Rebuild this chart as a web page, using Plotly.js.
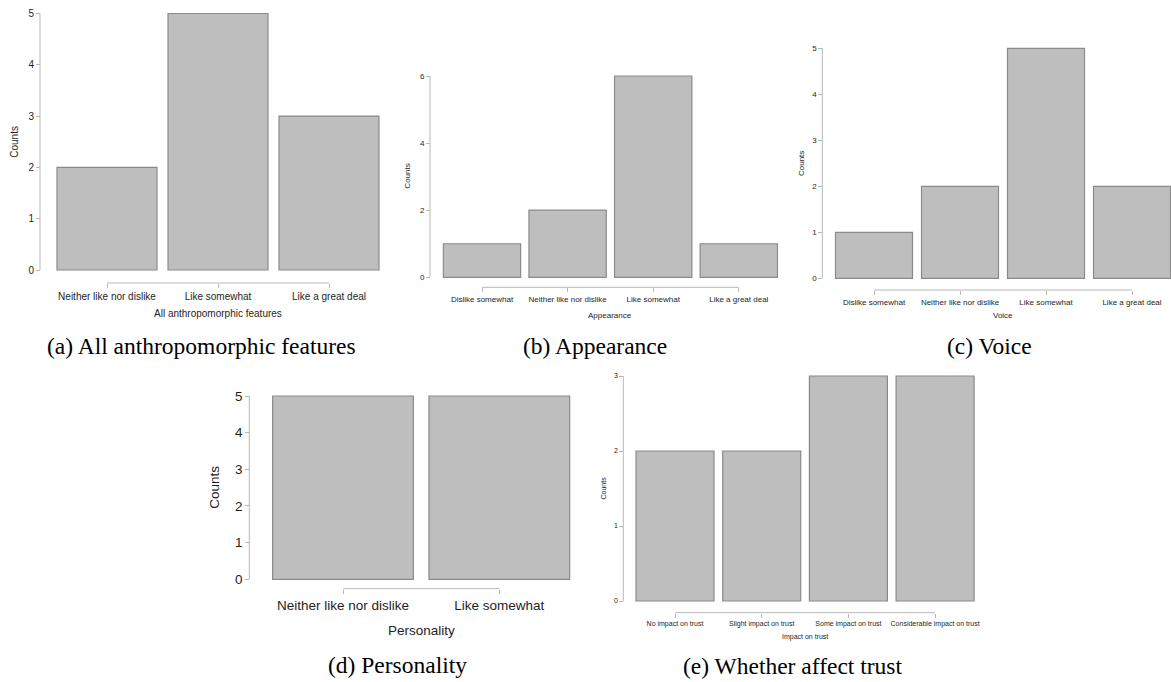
<!DOCTYPE html>
<html>
<head>
<meta charset="utf-8">
<script src="https://cdn.plot.ly/plotly-3.0.1.min.js"></script>
<style>
  html, body { margin: 0; padding: 0; background: #fff; }
  #fig { width: 1171px; height: 682px; }
</style>
</head>
<body>
<div id="fig"></div>
<script>
// ---- survey responses ----
const catsAll = ['Neither like nor dislike', 'Like somewhat', 'Like a great deal'];
const countsAll = [2, 5, 3];
const ticksAll = [0, 1, 2, 3, 4, 5];

const catsAppearance = ['Dislike somewhat', 'Neither like nor dislike', 'Like somewhat', 'Like a great deal'];
const countsAppearance = [1, 2, 6, 1];
const ticksAppearance = [0, 2, 4, 6];

const catsVoice = ['Dislike somewhat', 'Neither like nor dislike', 'Like somewhat', 'Like a great deal'];
const countsVoice = [1, 2, 5, 2];
const ticksVoice = [0, 1, 2, 3, 4, 5];

const catsPersonality = ['Neither like nor dislike', 'Like somewhat'];
const countsPersonality = [5, 5];
const ticksPersonality = [0, 1, 2, 3, 4, 5];

const catsTrust = ['No impact on trust', 'Slight impact on trust', 'Some impact on trust', 'Considerable impact on trust'];
const countsTrust = [2, 2, 3, 3];
const ticksTrust = [0, 1, 2, 3];

const xTitles = ['All anthropomorphic features', 'Appearance', 'Voice', 'Personality', 'Impact on trust'];
const captions = ['(a) All anthropomorphic features', '(b) Appearance', '(c) Voice', '(d) Personality', '(e) Whether affect trust'];

// ---- panel placement (pixels on a 1171 x 682 page) ----
const W = 1171, H = 682;
const panels = [
  { cats: catsAll, counts: countsAll, ticks: ticksAll,
    c0: 107, step: 111, barw: 100, L: 51.5, R: 384.5, y0: 270, yTop: 13.5,
    yAxisX: 40, xAxisY: 283, font: 10, yTitleX: 15, xTitleY: 313, capX: 201.7, capY: 346 },
  { cats: catsAppearance, counts: countsAppearance, ticks: ticksAppearance,
    c0: 482, step: 85.6, barw: 77.3, L: 439.2, R: 781.5, y0: 277.3, yTop: 76,
    yAxisX: 430, xAxisY: 287.3, font: 8, yTitleX: 408, xTitleY: 315, capX: 595, capY: 346 },
  { cats: catsVoice, counts: countsVoice, ticks: ticksVoice,
    c0: 874, step: 86, barw: 77, L: 831, R: 1171, y0: 278.3, yTop: 48.3,
    yAxisX: 822.3, xAxisY: 290, font: 8, yTitleX: 801.7, xTitleY: 315, capX: 989, capY: 346 },
  { cats: catsPersonality, counts: countsPersonality, ticks: ticksPersonality,
    c0: 343, step: 156.3, barw: 140.7, L: 264.8, R: 577.5, y0: 579.3, yTop: 396,
    yAxisX: 249.3, xAxisY: 588.7, font: 13.5, yTitleX: 215, xTitleY: 630, capX: 397.5, capY: 664.5 },
  { cats: catsTrust, counts: countsTrust, ticks: ticksTrust,
    c0: 675, step: 86.7, barw: 78, L: 631.7, R: 978.4, y0: 601, yTop: 376,
    yAxisX: 623.3, xAxisY: 612.7, font: 7, yTitleX: 603, xTitleY: 636.7, capX: 792.5, capY: 666 }
];

const FILL = '#bebebe', EDGE = '#8a8a8a', AXIS = '#b8b8b8', TEXT = '#1e1e1e';
const FONT = 'Liberation Sans, Arial, Helvetica, sans-serif';
const SERIF = 'Liberation Serif, Times New Roman, serif';

const traces = [];
const layout = {
  width: W, height: H,
  margin: { l: 0, r: 0, t: 0, b: 0 },
  paper_bgcolor: '#ffffff', plot_bgcolor: 'rgba(0,0,0,0)',
  showlegend: false,
  shapes: [], annotations: []
};

panels.forEach((p, i) => {
  const sfx = i === 0 ? '' : String(i + 1);
  const xa = 'x' + sfx, ya = 'y' + sfx;
  const n = p.cats.length;
  const idx = p.cats.map((_, k) => k);
  const ymax = Math.max(...p.ticks);
  const pad = 2;
  const pxPerUnit = (p.y0 - p.yTop) / ymax;

  traces.push({
    type: 'bar', x: idx, y: p.counts, xaxis: xa, yaxis: ya,
    width: p.barw / p.step,
    marker: { color: FILL, line: { color: EDGE, width: 1.2 } },
    hoverinfo: 'skip'
  });

  layout['xaxis' + sfx] = {
    domain: [p.L / W, p.R / W],
    range: [(p.L - p.c0) / p.step, (p.R - p.c0) / p.step],
    anchor: 'free', position: 1 - p.xAxisY / H,
    tickmode: 'array', tickvals: idx, ticktext: p.cats,
    ticks: 'outside', ticklen: 4, tickwidth: 1, tickcolor: AXIS,
    tickfont: { family: FONT, size: p.font, color: TEXT },
    showline: false, showgrid: false, zeroline: false, fixedrange: true
  };
  layout['yaxis' + sfx] = {
    domain: [1 - (p.y0 + pad) / H, 1 - (p.yTop - pad) / H],
    range: [-pad / pxPerUnit, ymax + pad / pxPerUnit],
    anchor: 'free', position: p.yAxisX / W,
    tickmode: 'array', tickvals: p.ticks, ticktext: p.ticks.map(String),
    ticks: 'outside', ticklen: 4, tickwidth: 1, tickcolor: AXIS,
    tickfont: { family: FONT, size: p.font, color: TEXT },
    showline: false, showgrid: false, zeroline: false, fixedrange: true
  };

  // range-frame axis lines spanning first-to-last tick
  layout.shapes.push({
    type: 'line', xref: xa, yref: 'paper',
    x0: 0, x1: n - 1, y0: 1 - p.xAxisY / H, y1: 1 - p.xAxisY / H,
    line: { color: AXIS, width: 1 }
  });
  layout.shapes.push({
    type: 'line', xref: 'paper', yref: ya,
    x0: p.yAxisX / W, x1: p.yAxisX / W, y0: 0, y1: ymax,
    line: { color: AXIS, width: 1 }
  });

  // axis titles
  layout.annotations.push({
    text: xTitles[i], xref: xa, yref: 'paper',
    x: (n - 1) / 2, y: 1 - p.xTitleY / H, xanchor: 'center', yanchor: 'middle',
    showarrow: false, font: { family: FONT, size: p.font, color: TEXT }
  });
  layout.annotations.push({
    text: 'Counts', xref: 'paper', yref: ya, textangle: -90,
    x: p.yTitleX / W, y: ymax / 2, xanchor: 'center', yanchor: 'middle',
    showarrow: false, font: { family: FONT, size: p.font, color: TEXT }
  });
  // sub-figure caption
  layout.annotations.push({
    text: captions[i], xref: 'paper', yref: 'paper',
    x: p.capX / W, y: 1 - p.capY / H, xanchor: 'center', yanchor: 'middle',
    showarrow: false, font: { family: SERIF, size: 23.5, color: '#000000' }
  });
});

layout.bargap = 0.1;

Plotly.newPlot('fig', traces, layout, { staticPlot: true, displayModeBar: false });
</script>
</body>
</html>
